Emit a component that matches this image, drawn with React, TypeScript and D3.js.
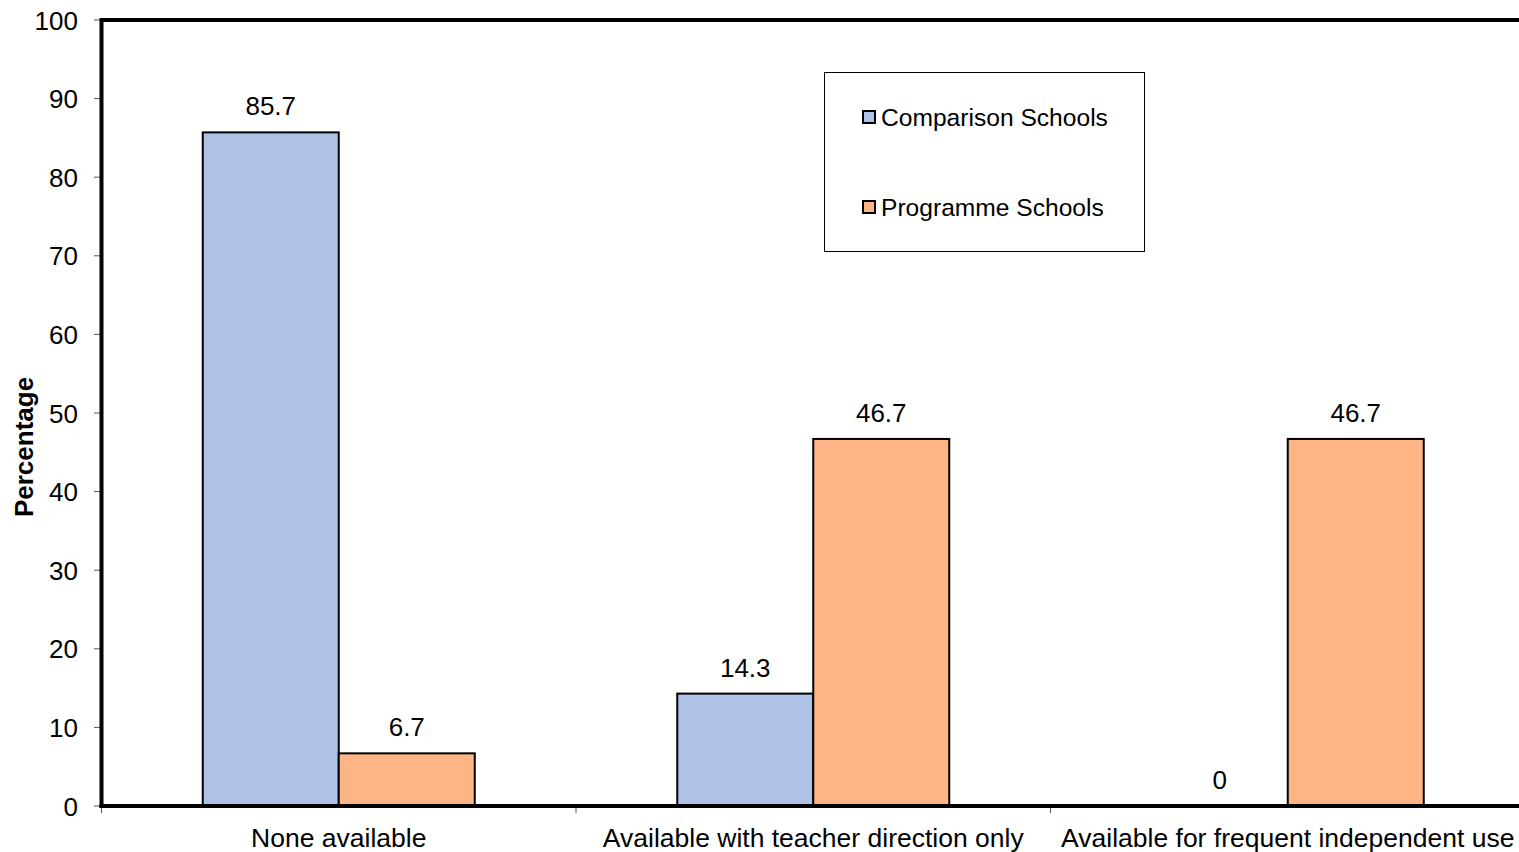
import React from "react";
import * as d3 from "d3";

const categories = ["None available", "Available with teacher direction only", "Available for frequent independent use"];
const seriesNames = ["Comparison Schools", "Programme Schools"];
const comparison = [85.7, 14.3, 0];
const programme = [6.7, 46.7, 46.7];
const yTicks = [0, 10, 20, 30, 40, 50, 60, 70, 80, 90, 100];
const colors = ["#AEC2E8", "#FFB485"];

export default function App() {
  const W = 1519, H = 852;
  const left = 101.5, right = 1525, top = 20, bottom = 806;
  const x = d3.scaleBand<string>().domain(categories).range([left, right]).paddingInner(0).paddingOuter(0);
  const y = d3.scaleLinear().domain([0, 100]).range([bottom, top]);
  const groupW = 272;
  const inner = d3.scaleBand<string>().domain(seriesNames).range([0, groupW]);
  const series = [comparison, programme];
  const font = "'Liberation Sans', Arial, sans-serif";
  return (
    <svg width={W} height={H} style={{ position: "fixed", left: 0, top: 0, background: "#fff" }} fontFamily={font}>
      <rect x={0} y={0} width={W} height={H} fill="#fff" />
      {/* bars */}
      {categories.map((c, ci) => {
        const gx = (x(c) as number) + (x.bandwidth() - groupW) / 2;
        return series.map((s, si) => {
          const v = s[ci];
          const bx = gx + (inner(seriesNames[si]) as number);
          const bw = inner.bandwidth();
          return (
            <g key={c + si}>
              {v > 0 && (
                <rect x={bx} y={y(v)} width={bw} height={bottom - y(v)} fill={colors[si]} stroke="#000" strokeWidth={2} />
              )}
              <text x={bx + bw / 2} y={y(v) - 17} textAnchor="middle" fontSize={26} fill="#000">
                {String(v)}
              </text>
            </g>
          );
        });
      })}
      {/* y ticks */}
      {yTicks.map((t) => (
        <g key={t}>
          <line x1={94} x2={101} y1={y(t)} y2={y(t)} stroke="#555" strokeWidth={1} />
          <text x={78} y={y(t) + 9.5} textAnchor="end" fontSize={26} fill="#000">{t}</text>
        </g>
      ))}
      {/* x ticks */}
      {[...categories.map((c) => x(c) as number), right].map((px, i) => (
        <line key={i} x1={px} x2={px} y1={bottom} y2={bottom + 7} stroke="#555" strokeWidth={1} />
      ))}
      {/* frame */}
      <line x1={left} x2={right} y1={top} y2={top} stroke="#000" strokeWidth={4} />
      <line x1={left} x2={left} y1={top - 2} y2={bottom + 2} stroke="#000" strokeWidth={4} />
      <line x1={left - 2} x2={right} y1={bottom} y2={bottom} stroke="#000" strokeWidth={4} />
      <line x1={right} x2={right} y1={top} y2={bottom} stroke="#000" strokeWidth={4} />
      {/* category labels */}
      {categories.map((c) => (
        <text key={c} x={(x(c) as number) + x.bandwidth() / 2} y={847} textAnchor="middle" fontSize={26.5} fill="#000">{c}</text>
      ))}
      {/* y title */}
      <text transform={`translate(33,447) rotate(-90)`} textAnchor="middle" fontSize={26} fontWeight="bold" fill="#000">Percentage</text>
      {/* legend */}
      <rect x={824.5} y={72.5} width={320} height={179} fill="#fff" stroke="#000" strokeWidth={1} />
      {seriesNames.map((n, i) => (
        <g key={n}>
          <rect x={863} y={111 + i * 90} width={12} height={12} fill={colors[i]} stroke="#000" strokeWidth={2} />
          <text x={881} y={126 + i * 90} fontSize={24.6} fill="#000">{n}</text>
        </g>
      ))}
    </svg>
  );
}
